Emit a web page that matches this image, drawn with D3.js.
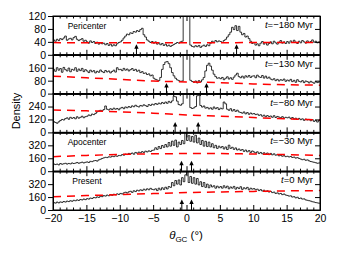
<!DOCTYPE html>
<html><head><meta charset="utf-8">
<script src="https://cdn.jsdelivr.net/npm/d3@7"></script>
<style>body{margin:0;background:#fff}svg{display:block}</style>
</head><body>
<svg id="c" width="339" height="254"></svg>
<script>
// ---------- DATA ----------
const binStart = -20, binWidth = 0.25;
const xTicksMajor = [-20,-15,-10,-5,0,5,10,15,20];
const panelLabelsLeft = ["Pericenter","","","Apocenter","Present"];
const panelTimes = ["−180","−130","−80","−30","0"];
const yMax = [120,240,360,480,480];
const yTickValues = [[0,40,80,120],[0,80,160],[0,120,240],[0,160,320],[0,160,320]];
const smoothX = [-20,-15,-10,-5,0,5,10,15,20];
const smooth1 = [38,37,37,37,37,37,38,38,38];
const smooth2 = [108,98,88,78,72,68,60,55,52];
const smooth3 = [208,200,190,178,162,150,138,126,115];
const smooth4 = [180,195,208,215,218,218,212,205,195];
const smooth5 = [165,178,190,203,215,223,230,236,240];
const arrows1 = [-7.5,7.5];
const arrows2 = [-3,3];
const arrows3 = [-1.7,1.75];
const arrows4 = [-0.75,0.75];
const arrows5 = [-0.7,0.75];
const hist1 = [
46,42,48,44,50,47,52,58,45,49,51,46,53,57,48,44,47,50,42,45,
40,36,43,38,41,35,39,33,37,34,36,31,35,29,33,27,31,28,34,38,
40,45,52,58,64,62,68,66,72,70,75,72,78,82,62,55,46,42,38,41,
36,40,33,37,31,35,29,33,27,30,26,29,32,35,38,36,40,42,400,600,
600,400,30,26,24,28,25,29,23,27,30,26,31,28,36,42,38,44,40,43,
41,38,44,48,55,62,70,85,78,90,75,88,70,62,66,55,58,50,42,35,
38,30,34,28,36,41,33,38,30,35,40,34,42,37,33,39,44,36,40,35,
41,36,43,38,45,39,35,42,37,44,40,36,43,38,41,46,39,42,37,40];
const hist2 = [
150,138,160,145,155,132,162,148,140,158,135,150,145,160,138,152,142,156,136,148,
140,130,145,135,142,128,138,132,146,136,130,143,134,140,128,137,145,133,160,148,
150,142,156,145,152,140,148,155,143,150,138,145,130,136,125,128,118,122,110,115,
95,88,84,80,100,150,180,195,198,185,160,130,110,95,85,80,76,78,600,800,
800,600,82,75,70,78,66,80,72,85,100,140,175,188,170,145,120,105,95,98,
92,100,86,95,104,90,98,88,102,115,126,105,98,108,96,110,102,112,100,108,
110,98,114,104,100,112,96,108,95,102,90,85,92,80,88,78,86,82,90,76,
84,78,88,74,82,70,86,76,72,80,68,78,74,66,76,70,64,74,68,72];
const hist3 = [
100,92,85,98,110,120,115,128,135,122,140,130,138,126,145,132,140,150,136,146,
150,162,155,170,165,176,190,198,205,200,212,245,215,208,220,212,225,215,222,210,
225,232,220,236,228,240,232,246,238,252,242,236,250,244,256,248,240,258,250,262,
255,268,260,272,264,278,268,282,270,288,276,292,335,330,290,258,252,265,420,500,
450,380,230,222,228,240,340,345,250,235,245,225,232,218,228,215,236,220,230,212,
225,218,282,265,215,205,220,198,212,195,206,190,185,178,190,172,184,168,180,170,
175,165,170,158,164,150,160,145,156,148,152,140,155,138,148,142,136,146,132,140,
135,142,128,138,125,132,120,130,118,126,112,124,115,120,108,118,102,112,96,110];
const hist4 = [
90,82,88,78,95,86,92,98,88,96,90,102,95,100,108,98,105,112,102,110,
115,108,122,118,128,132,125,140,148,158,165,172,168,178,174,185,180,190,184,195,
192,205,198,212,206,220,214,225,210,232,222,236,228,242,232,248,238,252,244,258,
262,290,270,305,280,318,295,330,300,355,310,372,320,385,300,360,330,380,340,600,
380,440,370,430,360,445,350,410,330,380,310,370,305,360,300,340,290,320,282,310,
290,305,275,300,268,322,282,296,270,288,262,275,258,268,245,262,240,255,232,250,
238,225,240,218,232,215,228,210,225,205,220,202,215,198,205,190,198,185,192,180,
185,176,182,170,175,162,168,158,150,142,148,135,140,128,120,115,110,105,98,102];
const hist5 = [
92,85,98,88,100,94,105,98,110,104,115,108,120,114,125,118,130,124,136,128,
140,135,148,142,155,150,162,156,170,165,178,172,185,176,190,182,195,188,200,192,
205,198,212,220,210,225,232,218,238,228,245,236,250,240,258,246,262,250,268,255,
250,262,240,270,248,275,255,282,260,290,280,340,300,365,320,372,310,400,350,435,
600,340,415,330,400,320,390,310,350,290,340,280,320,275,310,285,300,270,295,275,
290,270,300,275,295,262,285,270,292,258,280,265,288,255,275,262,280,250,270,258,
265,250,258,240,252,235,245,228,238,222,230,215,222,205,212,198,205,190,198,185,
180,172,175,160,165,150,158,142,148,135,138,125,120,115,110,102,98,92,88,84];

const hists = [hist1,hist2,hist3,hist4,hist5];
const smooths = [smooth1,smooth2,smooth3,smooth4,smooth5];
const arrowsAll = [arrows1,arrows2,arrows3,arrows4,arrows5];

// ---------- LAYOUT ----------
const L = 53, R = 320, T = 16, B = 210, N = 5;
const ph = (B - T) / N;
const font = "'Liberation Sans', Arial, Helvetica, sans-serif";
const svg = d3.select("#c");
const x = d3.scaleLinear().domain([-20,20]).range([L,R]);
const minorTicks = d3.range(-20,21,1).filter(v => v % 5 !== 0);

for (let i = 0; i < N; i++) {
  const top = T + i*ph, bot = top + ph;
  const y = d3.scaleLinear().domain([0,yMax[i]]).range([bot,top]);
  const g = svg.append("g");
  const cid = "clip"+i;
  svg.append("clipPath").attr("id",cid).append("rect")
    .attr("x",L).attr("y",top).attr("width",R-L).attr("height",ph);

  // histogram
  const pts = hists[i].map((v,j) => [binStart + j*binWidth, v]);
  pts.push([20, hists[i][hists[i].length-1]]);
  g.append("path").datum(pts)
    .attr("clip-path",`url(#${cid})`)
    .attr("fill","none").attr("stroke","#000").attr("stroke-width",0.8)
    .attr("d", d3.line().x(d=>x(d[0])).y(d=>y(d[1])).curve(d3.curveStepAfter));

  // smooth red dashed
  g.append("path").datum(smoothX.map((v,k)=>[v,smooths[i][k]]))
    .attr("clip-path",`url(#${cid})`)
    .attr("fill","none").attr("stroke","#ff0000").attr("stroke-width",1.5)
    .attr("stroke-dasharray","8,6")
    .attr("d", d3.line().x(d=>x(d[0])).y(d=>y(d[1])).curve(d3.curveMonotoneX));

  // arrows
  arrowsAll[i].forEach(a => {
    const ax = x(a);
    g.append("line").attr("x1",ax).attr("x2",ax).attr("y1",bot).attr("y2",bot-7)
      .attr("stroke","#000").attr("stroke-width",1);
    g.append("path").attr("d",`M${ax},${bot-10.5}L${ax-2.2},${bot-6}L${ax+2.2},${bot-6}Z`)
      .attr("fill","#000");
  });

  // x axes (top & bottom), inward ticks
  const axB = d3.axisBottom(x).tickValues(xTicksMajor).tickSizeInner(-5).tickSizeOuter(0);
  const axT = d3.axisTop(x).tickValues(xTicksMajor).tickSizeInner(-5).tickSizeOuter(0).tickFormat("");
  const axBm = d3.axisBottom(x).tickValues(minorTicks).tickSizeInner(-2.5).tickSizeOuter(0).tickFormat("");
  const axTm = d3.axisTop(x).tickValues(minorTicks).tickSizeInner(-2.5).tickSizeOuter(0).tickFormat("");
  if (i < N-1) axB.tickFormat("");
  const gb = g.append("g").attr("transform",`translate(0,${bot})`).call(axB);
  g.append("g").attr("transform",`translate(0,${bot})`).call(axBm);
  g.append("g").attr("transform",`translate(0,${top})`).call(axT);
  g.append("g").attr("transform",`translate(0,${top})`).call(axTm);
  gb.selectAll("text").attr("font-size",10.5).attr("font-family",font).attr("fill","#000")
    .attr("dy",null).attr("y",12);

  // y axes
  const ayL = d3.axisLeft(y).tickValues(yTickValues[i]).tickSizeInner(5).tickSizeOuter(0).tickPadding(2);
  const ayR = d3.axisRight(y).tickValues(yTickValues[i]).tickSizeInner(-5).tickSizeOuter(0).tickFormat("");
  const gl = g.append("g").attr("transform",`translate(${L},0)`).call(ayL);
  g.append("g").attr("transform",`translate(${R},0)`).call(ayR);
  gl.selectAll("text").attr("font-size",10.5).attr("font-family",font).attr("fill","#000");

  // frame
  g.append("rect").attr("x",L).attr("y",top).attr("width",R-L).attr("height",ph)
    .attr("fill","none").attr("stroke","#000").attr("stroke-width",1);

  // labels
  if (panelLabelsLeft[i]) {
    g.append("text").attr("x",87).attr("y",top+12.5).attr("text-anchor","middle")
      .attr("font-size",8.5).attr("font-family",font).text(panelLabelsLeft[i]);
  }
  const tt = g.append("text").attr("x",313).attr("y",top+12).attr("text-anchor","end")
    .attr("font-size",9.5).attr("font-family",font);
  tt.append("tspan").attr("font-style","italic").text("t");
  tt.append("tspan").text("=" + panelTimes[i] + " Myr");
}
svg.selectAll(".domain").attr("stroke","#000");
svg.selectAll(".tick line").attr("stroke","#000");

// axis titles
svg.append("text").attr("transform","translate(20,111) rotate(-90)")
  .attr("text-anchor","middle").attr("font-size",11).attr("font-family",font).text("Density");
const xt = svg.append("text").attr("x",186).attr("y",239).attr("text-anchor","middle")
  .attr("font-size",11.5).attr("font-family",font);
xt.append("tspan").attr("font-style","italic").text("θ");
xt.append("tspan").attr("font-size",8).attr("dy",2.5).text("GC");
xt.append("tspan").attr("dy",-2.5).text(" (°)");
</script>
</body></html>
